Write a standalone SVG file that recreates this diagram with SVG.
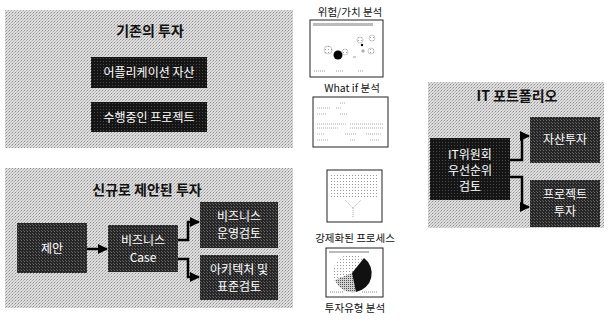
<svg xmlns="http://www.w3.org/2000/svg" width="611" height="322" viewBox="0 0 611 322">
<defs>
<pattern id="grain" width="3" height="3" patternUnits="userSpaceOnUse">
<rect width="3" height="3" fill="#dedede"/>
<rect x="0" y="0" width="1" height="1" fill="#8e8e8e"/>
<rect x="2" y="1" width="1" height="1" fill="#b0b0b0"/>
<rect x="1" y="2" width="1" height="1" fill="#bcbcbc"/>
</pattern>
<pattern id="darkgrain" width="3" height="3" patternUnits="userSpaceOnUse">
<rect width="3" height="3" fill="#151515"/>
<rect x="1" y="1" width="1" height="1" fill="#4a4a4a"/>
</pattern>
<pattern id="midgrain" width="3" height="3" patternUnits="userSpaceOnUse">
<rect width="3" height="3" fill="#262626"/>
<rect x="0" y="0" width="1" height="1" fill="#6a6a6a"/>
<rect x="2" y="2" width="1" height="1" fill="#5a5a5a"/>
</pattern>
<pattern id="dots" width="3" height="3" patternUnits="userSpaceOnUse">
<rect width="3" height="3" fill="#ffffff"/>
<rect x="1" y="1" width="1" height="1" fill="#9a9a9a"/>
</pattern>
<pattern id="greydots" width="2" height="2" patternUnits="userSpaceOnUse">
<rect width="2" height="2" fill="#d0d0d0"/>
<rect x="0" y="0" width="1" height="1" fill="#555"/>
</pattern>
<marker id="ah" viewBox="0 0 10 10" refX="9" refY="5" markerWidth="4" markerHeight="4" orient="auto" markerUnits="strokeWidth">
<path d="M0,0 L10,5 L0,10 z" fill="#000"/>
</marker>
</defs>
<style>
.panel{fill:url(#grain);}
.dark{fill:url(#darkgrain);}
.mid{fill:url(#midgrain);}
.title{font-family:"Noto Sans CJK KR","Noto Sans",sans-serif;font-size:14px;font-weight:bold;fill:#111;text-anchor:middle;}
.lbl{font-family:"Noto Sans CJK KR","Noto Sans",sans-serif;font-size:12px;fill:#fff;text-anchor:middle;}
.cap{font-family:"Noto Sans CJK KR","Noto Sans",sans-serif;font-size:10.5px;fill:#111;text-anchor:middle;}
.thumb{fill:#fff;stroke:#222;stroke-width:1;}
.conn{fill:none;stroke:#000;stroke-width:2.5;marker-end:url(#ah);}
</style>

<!-- Panel 1 -->
<g id="panel-existing">
<rect class="panel" x="5" y="10" width="288" height="138"/>
<text class="title" x="150" y="36">기존의 투자</text>
</g>
<g id="node-app-assets">
<rect class="dark" x="91" y="57" width="116" height="31"/>
<text class="lbl" x="149" y="77">어플리케이션 자산</text>
</g>
<g id="node-running-projects">
<rect class="dark" x="91" y="102" width="116" height="30"/>
<text class="lbl" x="149" y="122">수행중인 프로젝트</text>
</g>

<!-- Panel 2 -->
<g id="panel-new">
<rect class="panel" x="5" y="168" width="288" height="140"/>
<text class="title" x="147" y="195">신규로 제안된 투자</text>
</g>
<g id="node-proposal">
<rect class="mid" x="17" y="223" width="70" height="50"/>
<text class="lbl" x="52" y="253">제안</text>
</g>
<g id="node-bizcase">
<rect class="mid" x="108" y="225" width="70" height="47"/>
<text class="lbl" x="143" y="245">비즈니스</text>
<text class="lbl" x="143" y="262">Case</text>
</g>
<g id="node-bizops">
<rect class="mid" x="200" y="202" width="78" height="46"/>
<text class="lbl" x="239" y="221">비즈니스</text>
<text class="lbl" x="239" y="238">운영검토</text>
</g>
<g id="node-arch">
<rect class="mid" x="200" y="255" width="78" height="45"/>
<text class="lbl" x="239" y="274">아키텍처 및</text>
<text class="lbl" x="239" y="291">표준검토</text>
</g>

<!-- Panel 3 -->
<g id="panel-portfolio">
<rect class="panel" x="428" y="82" width="176" height="146"/>
<text class="title" x="517" y="101">IT 포트폴리오</text>
</g>
<g id="node-committee">
<rect class="dark" x="430" y="138" width="80" height="62"/>
<text class="lbl" x="470" y="159">IT위원회</text>
<text class="lbl" x="470" y="175">우선순위</text>
<text class="lbl" x="470" y="191">검토</text>
</g>
<g id="node-asset-invest">
<rect class="mid" x="530" y="117" width="70" height="46"/>
<text class="lbl" x="565" y="144">자산투자</text>
</g>
<g id="node-project-invest">
<rect class="mid" x="530" y="180" width="70" height="47"/>
<text class="lbl" x="565" y="199">프로젝트</text>
<text class="lbl" x="565" y="216">투자</text>
</g>

<!-- Thumbnails -->
<g id="thumb-risk">
<text class="cap" x="350" y="16">위험/가치 분석</text>
<rect class="thumb" x="310" y="20" width="73" height="57"/>
<rect x="313" y="23" width="60" height="3" fill="#bbb"/>
<circle cx="328" cy="50" r="4" fill="url(#dots)" stroke="#999" stroke-width="0.5"/>
<circle cx="338" cy="55" r="4.5" fill="#000"/>
<circle cx="345" cy="52" r="3" fill="url(#dots)" stroke="#999" stroke-width="0.5"/>
<circle cx="360" cy="40" r="3" fill="url(#dots)" stroke="#999" stroke-width="0.5"/>
<circle cx="372" cy="38" r="3" fill="url(#dots)" stroke="#999" stroke-width="0.5"/>
<circle cx="371" cy="51" r="3" fill="url(#dots)" stroke="#999" stroke-width="0.5"/>
<circle cx="362" cy="45" r="1.2" fill="#000"/>
<path d="M361 51h4M363 49v4M353 57h3" stroke="#888" stroke-width="0.8"/>
<path d="M314 71h12M336 71h8M358 71h6" stroke="#999" stroke-width="1" stroke-dasharray="1 1"/>
</g>
<g id="thumb-whatif">
<text class="cap" x="352" y="92">What if 분석</text>
<rect class="thumb" x="313" y="97" width="75" height="50"/>
<path d="M340 103h6M317 108h14M336 108h6M317 114h10M340 114h8M317 124h30M350 124h34M317 128h22M350 128h34M317 134h8M345 134h12M366 134h16M317 140h12M350 140h6M370 140h10" stroke="#aaa" stroke-width="1" stroke-dasharray="1 1"/>
</g>
<g id="thumb-process">
<rect class="thumb" x="327" y="170" width="55" height="52"/>
<rect x="330" y="173" width="49" height="25" fill="url(#dots)"/>
<path d="M345 200l8 8l8-8M353 208v10" fill="none" stroke="#aaa" stroke-width="1" stroke-dasharray="1 1"/>
<text class="cap" x="355" y="242">강제화된 프로세스</text>
</g>
<g id="thumb-type">
<rect class="thumb" x="326" y="248" width="57" height="49"/>
<rect x="329" y="251" width="40" height="2" fill="#bbb"/>
<circle cx="352" cy="273" r="19" fill="url(#dots)"/>
<path d="M352 273 L335 280 A19 19 0 0 0 356 292 Z" fill="url(#greydots)"/>
<path d="M352 273 L364 258 A19 19 0 0 1 356 292 Z" fill="#111"/>
<path d="M330 292h14M362 292h16" stroke="#888" stroke-width="1" stroke-dasharray="1 1"/>
<text class="cap" x="355" y="312">투자유형 분석</text>
</g>

<!-- Connectors -->
<g id="connectors">
<path class="conn" d="M87 249 H107"/>
<path class="conn" d="M178 240 H188 V222 H199"/>
<path class="conn" d="M178 259 H188 V277 H199"/>
<path class="conn" d="M510 160 H522 V136 H529"/>
<path class="conn" d="M510 177 H522 V207 H529"/>
</g>
</svg>
